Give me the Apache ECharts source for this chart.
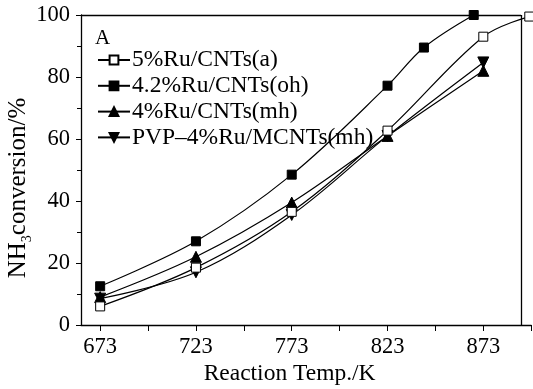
<!DOCTYPE html>
<html>
<head>
<meta charset="utf-8">
<script src="https://cdn.jsdelivr.net/npm/echarts@6/dist/echarts.min.js"></script>
<style>
html,body{margin:0;padding:0;background:#fff;}
#main{width:533px;height:389px;}
</style>
</head>
<body>
<div id="main"></div>
<script>
// 数据
let names = ['5%Ru/CNTs(a)', '4.2%Ru/CNTs(oh)', '4%Ru/CNTs(mh)', 'PVP\u20134%Ru/MCNTs(mh)'];
let data_a = [[673, 6], [723, 18.5], [773, 36.5], [823, 62.7], [873, 93], [897, 99.5]];
let data_oh = [[673, 12.5], [723, 27], [773, 48.5], [823, 77.2], [842, 89.5], [868, 100]];
let data_mh = [[673, 9], [723, 22], [773, 39.5], [823, 61], [873, 82]];
let data_pvp = [[673, 8.5], [723, 17], [773, 35.5], [823, 61], [873, 84.7]];
let x_labels = [673, 723, 773, 823, 873];
let x_ticks = [673, 698, 723, 748, 773, 798, 823, 848, 873, 898];
let frame_x = 892.7;

let font = 'Liberation Serif, Times New Roman, serif';
let downTri = 'path://M0,0 L10,0 L5,9 Z';

function lineSeries(name, data, symbol, size, fill){
    return {
        name: name,
        type: 'line',
        data: data,
        smooth: 0.35,
        symbol: symbol,
        symbolSize: size,
        showSymbol: true,
        animation: false,
        lineStyle: {color: '#000', width: 1.2},
        itemStyle: {color: fill, borderColor: '#000', borderWidth: 1},
        z: 3
    };
}

let series = [
    lineSeries(names[0], data_a, 'rect', 9, '#fff'),
    lineSeries(names[1], data_oh, 'rect', 9, '#000'),
    lineSeries(names[2], data_mh, 'triangle', 11, '#000'),
    lineSeries(names[3], data_pvp, downTri, 11, '#000')
];
// 图框 (上边, 右边)
series[0].markLine = {
    silent: true,
    symbol: 'none',
    animation: false,
    label: {show: false},
    lineStyle: {color: '#000', width: 1.3, type: 'solid'},
    data: [
        [{coord: [663, 100]}, {coord: [frame_x, 100]}],
        [{coord: [frame_x, 0]}, {coord: [frame_x, 100]}]
    ]
};
series[0].z = 4;

let myChart = echarts.init(document.getElementById('main'));
myChart.setOption({
    animation: false,
    backgroundColor: '#fff',
    grid: {left: 81, top: 15, right: 1.8, bottom: 64, outerBoundsMode: 'none', containLabel: false},
    title: {
        text: 'A', left: 90, top: 23,
        textStyle: {fontFamily: font, fontSize: 21, fontWeight: 'normal', color: '#000'}
    },
    legend: {
        orient: 'vertical',
        left: 92, top: 43,
        itemWidth: 32, itemHeight: 11, itemGap: 1.8,
        textStyle: {fontFamily: font, fontSize: 23.5, color: '#000', padding: [0, 0, 0, -3]},
        data: names
    },
    xAxis: {
        type: 'value',
        min: 663, max: 898,
        name: 'Reaction Temp./K',
        nameLocation: 'middle',
        nameGap: 37,
        nameMoveOverlap: false,
        nameTextStyle: {fontFamily: font, fontSize: 23.5, color: '#000', padding: [0, 33, 0, 0]},
        axisLine: {show: true, lineStyle: {color: '#000', width: 1.3}},
        axisTick: {show: true, length: 6, customValues: x_ticks, lineStyle: {color: '#000'}},
        axisLabel: {customValues: x_labels, fontFamily: font, fontSize: 22.5, color: '#000', margin: 11},
        splitLine: {show: false}
    },
    yAxis: {
        type: 'value',
        min: 0, max: 100, interval: 20,
        name: '{a|NH}{b|3}{a|conversion/%}',
        nameLocation: 'middle',
        nameGap: 50,
        nameMoveOverlap: false,
        nameTextStyle: {
            padding: [0, 36, 0, 0],
            rich: {
                a: {fontFamily: font, fontSize: 25, color: '#000', lineHeight: 26, verticalAlign: 'bottom'},
                b: {fontFamily: font, fontSize: 14, color: '#000', lineHeight: 26, verticalAlign: 'bottom', padding: [0, 0, -3, 0]}
            }
        },
        axisLine: {show: true, lineStyle: {color: '#000', width: 1.3}},
        axisTick: {show: true, length: 5, lineStyle: {color: '#000'}},
        minorTick: {show: true, splitNumber: 2, length: 4, lineStyle: {color: '#000'}},
        axisLabel: {fontFamily: font, fontSize: 22.5, color: '#000', margin: 11},
        splitLine: {show: false}
    },
    series: series
});
</script>
</body>
</html>
